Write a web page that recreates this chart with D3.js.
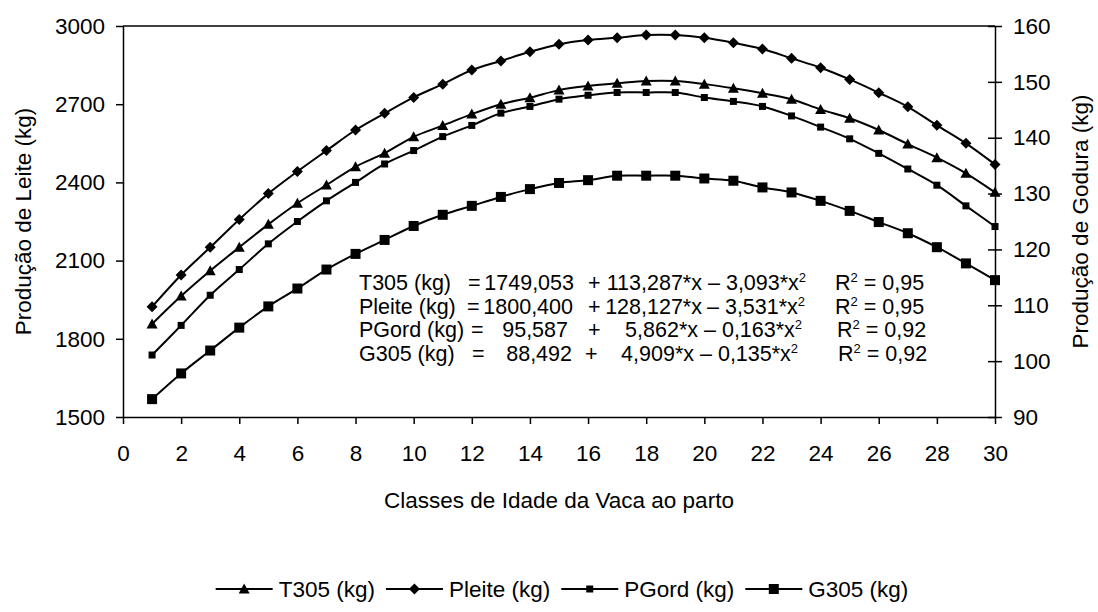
<!DOCTYPE html>
<html>
<head>
<meta charset="utf-8">
<script src="https://cdn.jsdelivr.net/npm/d3@7"></script>
<style>
  body { margin: 0; background: #fff; }
  text { font-family: "Liberation Sans", Arial, sans-serif; fill: #000; }
</style>
</head>
<body>
<div id="chart"></div>
<script>
// classes de idade (x)
var idades = d3.range(1, 31);

// eixo esquerdo (kg de leite)
var t305 = [1857, 1964, 2061, 2151, 2239, 2320, 2390, 2460, 2512, 2575, 2618, 2662, 2700, 2725, 2754,
            2770, 2780, 2789, 2789, 2777, 2761, 2742, 2719, 2680, 2646, 2601, 2547, 2495, 2435, 2362];
var pleite = [1923, 2045, 2151, 2258, 2357, 2442, 2522, 2601, 2665, 2726, 2777, 2831, 2866, 2901, 2930,
              2946, 2955, 2965, 2965, 2955, 2936, 2912, 2876, 2840, 2795, 2744, 2690, 2619, 2550, 2469];

// eixo direito (kg de gordura)
var pgord = [101.1, 106.4, 111.8, 116.4, 121.0, 125.0, 128.7, 132.0, 135.3, 137.7, 140.2, 142.2, 144.4, 145.6, 146.9,
             147.6, 148.1, 148.1, 148.1, 147.2, 146.5, 145.6, 143.9, 141.9, 139.8, 137.2, 134.4, 131.5, 127.8, 124.1];
var g305 = [93.2, 97.8, 101.9, 106.0, 109.8, 113.0, 116.4, 119.2, 121.7, 124.2, 126.2, 127.8, 129.4, 130.8, 131.9,
            132.4, 133.2, 133.2, 133.2, 132.7, 132.3, 131.1, 130.2, 128.7, 126.9, 124.9, 122.9, 120.4, 117.5, 114.5];

var xTicks = d3.range(0, 31, 2);
var yLeftTicks = [1500, 1800, 2100, 2400, 2700, 3000];
var yRightTicks = [90, 100, 110, 120, 130, 140, 150, 160];

// equações
var eqNomes = ["T305 (kg)", "Pleite (kg)", "PGord (kg)", "G305 (kg)"];
var eqConst = ["1749,053", "1800,400", "95,587", "88,492"];
var eqLin = ["113,287*x", "128,127*x", "5,862*x", "4,909*x"];
var eqQuad = ["3,093*x", "3,531*x", "0,163*x", "0,135*x"];
var eqR2 = ["0,95", "0,95", "0,92", "0,92"];

var width = 1098, height = 612;
var margem = {left: 123, right: 103, top: 26, bottom: 195};

var svg = d3.select("#chart").append("svg")
    .attr("width", width)
    .attr("height", height);

var x = d3.scaleLinear().domain([0, 30]).range([margem.left, width - margem.right]);
var yL = d3.scaleLinear().domain([1500, 3000]).range([height - margem.bottom, margem.top]);
var yR = d3.scaleLinear().domain([90, 160]).range([height - margem.bottom, margem.top]);

var fs = "22.5px";

// borda superior
svg.append("line")
    .attr("x1", x(0)).attr("x2", x(30))
    .attr("y1", yL(3000)).attr("y2", yL(3000))
    .attr("stroke", "#000").attr("stroke-width", 1.5);

// eixos
var gx = svg.append("g")
    .attr("transform", "translate(0," + yL(1500) + ")")
    .call(d3.axisBottom(x).tickValues(xTicks).tickFormat(d3.format("d")).tickSize(7).tickPadding(21).tickSizeOuter(0));

var gl = svg.append("g")
    .attr("transform", "translate(" + x(0) + ",0)")
    .call(d3.axisLeft(yL).tickValues(yLeftTicks).tickFormat(d3.format("d")).tickSize(7).tickPadding(11).tickSizeOuter(0));

var gr = svg.append("g")
    .attr("transform", "translate(" + x(30) + ",0)")
    .call(d3.axisRight(yR).tickValues(yRightTicks).tickFormat(d3.format("d")).tickSize(7).tickPadding(11).tickSizeOuter(0));
gr.selectAll(".tick line").attr("x1", -7);

[gx, gl, gr].forEach(function(g){
    g.select(".domain").attr("stroke", "#000").attr("stroke-width", 1.5);
    g.selectAll(".tick line").attr("stroke", "#000").attr("stroke-width", 1.5);
    g.selectAll(".tick text").style("font-size", fs).attr("fill", "#000");
});

// títulos
svg.append("text")
    .attr("transform", "translate(31," + ((yL(1500) + yL(3000)) / 2) + ") rotate(-90)")
    .attr("text-anchor", "middle")
    .style("font-size", fs)
    .text("Produção de Leite (kg)");

svg.append("text")
    .attr("transform", "translate(1088," + ((yL(1500) + yL(3000)) / 2) + ") rotate(-90)")
    .attr("text-anchor", "middle")
    .style("font-size", fs)
    .text("Produção de Godura (kg)");

svg.append("text")
    .attr("x", (x(0) + x(30)) / 2)
    .attr("y", 508)
    .attr("text-anchor", "middle")
    .style("font-size", fs)
    .text("Classes de Idade da Vaca ao parto");

// séries
var series = [
    {nome: "T305 (kg)", dados: t305, y: yL, marca: "tri"},
    {nome: "Pleite (kg)", dados: pleite, y: yL, marca: "dia"},
    {nome: "PGord (kg)", dados: pgord, y: yR, marca: "sq"},
    {nome: "G305 (kg)", dados: g305, y: yR, marca: "bigsq"}
];

function desenhaMarca(g, tipo, cx, cy){
    if(tipo == "tri"){
        g.append("path")
            .attr("d", "M" + cx + "," + (cy - 5.5) + "L" + (cx + 5.5) + "," + (cy + 4.5) + "L" + (cx - 5.5) + "," + (cy + 4.5) + "Z")
            .attr("fill", "#000");
    } else if(tipo == "dia"){
        g.append("path")
            .attr("d", "M" + cx + "," + (cy - 5.5) + "L" + (cx + 5.5) + "," + cy + "L" + cx + "," + (cy + 5.5) + "L" + (cx - 5.5) + "," + cy + "Z")
            .attr("fill", "#000");
    } else if(tipo == "sq"){
        g.append("rect")
            .attr("x", cx - 3.5).attr("y", cy - 3.5)
            .attr("width", 7).attr("height", 7)
            .attr("fill", "#000");
    } else {
        g.append("rect")
            .attr("x", cx - 5).attr("y", cy - 5)
            .attr("width", 10).attr("height", 10)
            .attr("fill", "#000");
    }
}

series.forEach(function(s){
    var linha = d3.line()
        .x(function(d, i){ return x(idades[i]); })
        .y(function(d){ return s.y(d); })
        .curve(d3.curveCatmullRom.alpha(0.5));

    svg.append("path")
        .datum(s.dados)
        .attr("d", linha)
        .attr("fill", "none")
        .attr("stroke", "#000")
        .attr("stroke-width", 2);

    var gm = svg.append("g");
    s.dados.forEach(function(d, i){
        desenhaMarca(gm, s.marca, x(idades[i]), s.y(d));
    });
});

// bloco de equações (posições das colunas)
var eqY = [290, 314, 337, 361];
var eqIgualX = [468, 467, 471, 472];
var eqConstFim = [574, 573, 568, 572];
var eqMaisX = [588, 588, 588, 585];
var eqLinFim = [702, 702, 698, 694];
var eqMenosX = [708, 707, 704, 700];
var eqR2X = [835, 835, 837, 838];

var geq = svg.append("g").style("font-size", "21.5px");
eqNomes.forEach(function(n, i){
    var yy = eqY[i];
    geq.append("text").attr("x", 359).attr("y", yy).text(n);
    geq.append("text").attr("x", eqIgualX[i]).attr("y", yy).text("=");
    geq.append("text").attr("x", eqConstFim[i]).attr("y", yy).attr("text-anchor", "end").text(eqConst[i]);
    geq.append("text").attr("x", eqMaisX[i]).attr("y", yy).text("+");
    geq.append("text").attr("x", eqLinFim[i]).attr("y", yy).attr("text-anchor", "end").text(eqLin[i]);
    var tq = geq.append("text").attr("x", eqMenosX[i]).attr("y", yy).attr("xml:space", "preserve");
    tq.append("tspan").text("– " + eqQuad[i]);
    tq.append("tspan").attr("dy", -8).style("font-size", "13px").text("2");
    var tr = geq.append("text").attr("x", eqR2X[i]).attr("y", yy).attr("xml:space", "preserve");
    tr.append("tspan").text("R");
    tr.append("tspan").attr("dy", -8).style("font-size", "13px").text("2");
    tr.append("tspan").attr("dy", 8).text(" = " + eqR2[i]);
});

// legenda
var legY = 589;
var leg = svg.append("g");
var itens = [];
series.forEach(function(s){
    var gi = leg.append("g");
    gi.append("line").attr("x1", 0).attr("x2", 57).attr("y1", 0).attr("y2", 0)
        .attr("stroke", "#000").attr("stroke-width", 2);
    desenhaMarca(gi, s.marca, 28.5, 0);
    var t = gi.append("text").attr("x", 63).attr("y", 0).attr("dy", "0.35em")
        .style("font-size", fs).text(s.nome);
    itens.push({g: gi, w: 63 + t.node().getComputedTextLength()});
});
var total = d3.sum(itens, function(d){ return d.w; }) + 11 * (itens.length - 1);
var lx = 562 - total / 2;
itens.forEach(function(it){
    it.g.attr("transform", "translate(" + lx + "," + legY + ")");
    lx += it.w + 11;
});
</script>
</body>
</html>
